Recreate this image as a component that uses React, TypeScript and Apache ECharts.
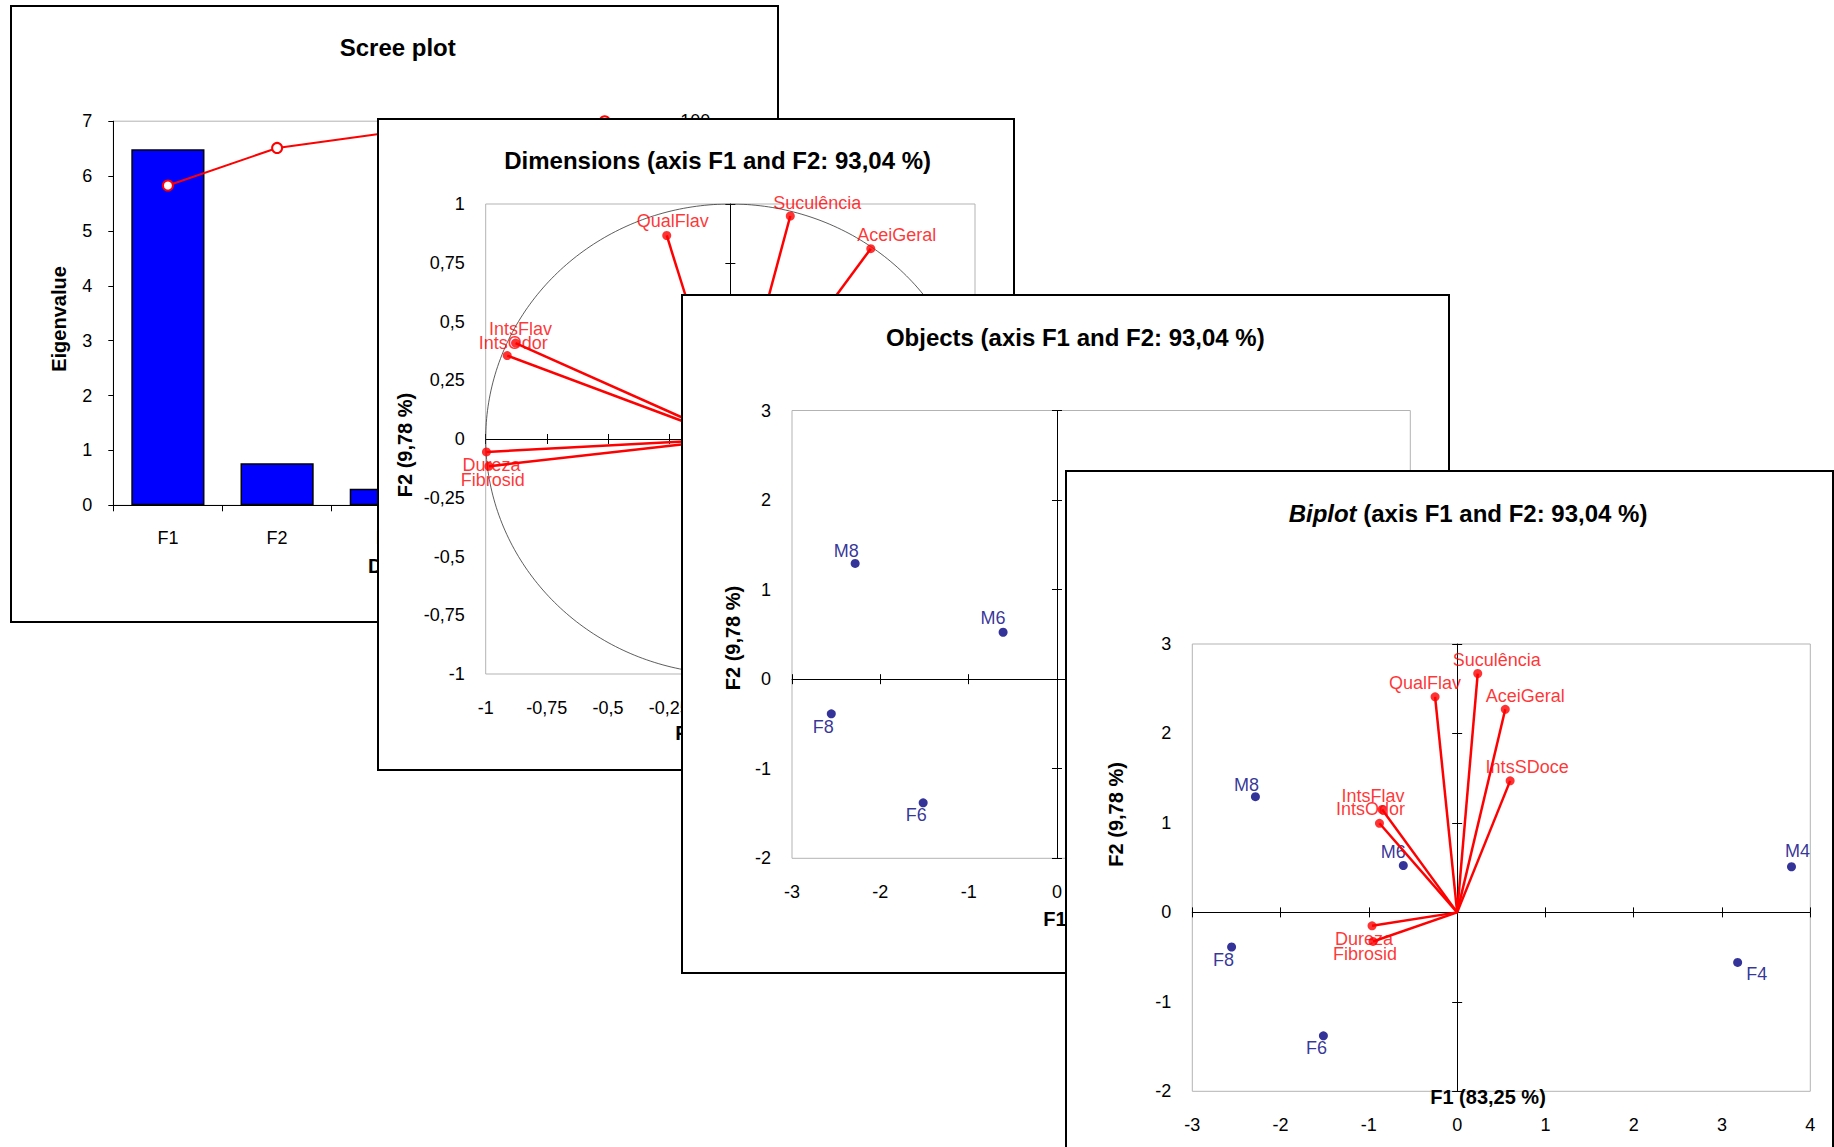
import React, { useEffect, useRef } from "react";
import * as echarts from "echarts";

const FONT = '"Liberation Sans", Arial, Helvetica, sans-serif';
const RED = "#FF0000";
const NAVY = "#000080";
const GRID_BORDER = "#b3b3b3";

// ---------- data ----------
const screeCategories = ["F1", "F2", "F3", "F4", "F5"];
const eigenvalues = [6.49, 0.765, 0.3, 0.18, 0.065];
const cumulativeVariability = [83.25, 93.04, 96.9, 99.2, 100];

const variableNames = ["QualFlav", "Suculência", "AceiGeral", "IntsSDoce", "IntsFlav", "IntsOdor", "Dureza", "Fibrosid"];
const variableCorrF1 = [-0.26, 0.245, 0.574, 0.63, -0.878, -0.912, -0.997, -0.987];
const variableCorrF2 = [0.866, 0.949, 0.81, 0.525, 0.408, 0.355, -0.055, -0.116];
const variableBiplotF1 = [-0.25, 0.233, 0.545, 0.6, -0.85, -0.88, -0.964, -0.953];
const variableBiplotF2 = [2.41, 2.67, 2.27, 1.47, 1.15, 0.996, -0.15, -0.325];

const objectNames = ["M4", "M6", "M8", "F4", "F6", "F8"];
const objectF1 = [3.787, -0.61, -2.285, 3.177, -1.515, -2.555];
const objectF2 = [0.51, 0.524, 1.293, -0.56, -1.38, -0.387];

const corrAxisRange = { min: -1, max: 1, interval: 0.25 };
const objAxisX = { min: -3, max: 4, interval: 1 };
const objAxisY = { min: -2, max: 3, interval: 1 };

const screeTitle = "Scree plot";
const dimsTitle = "Dimensions (axis F1 and F2: 93,04 %)";
const objectsTitle = "Objects (axis F1 and F2: 93,04 %)";
const biplotTitle = "{i|Biplot} (axis F1 and F2: 93,04 %)";
const f1Name = "F1 (83,25 %)";
const f2Name = "F2 (9,78 %)";

// ---------- layout (label offsets in px) ----------
const dimLabelOffset: Record<string, number[]> = {
  QualFlav: [6, -14], "Suculência": [27, -13], AceiGeral: [26, -14], IntsSDoce: [17, -14],
  IntsFlav: [5, -14], IntsOdor: [6, -13], Dureza: [5, 13], Fibrosid: [4, 14],
};
const biplotVarLabelOffset: Record<string, number[]> = {
  QualFlav: [-10, -14], "Suculência": [19, -14], AceiGeral: [20, -13], IntsSDoce: [17, -14],
  IntsFlav: [-9, -14], IntsOdor: [-9, -14], Dureza: [-8, 13], Fibrosid: [-8, 13],
};
const objLabelOffset: Record<string, number[]> = {
  M4: [6, -16], M6: [-10, -14], M8: [-9, -12], F4: [19, 12], F6: [-7, 12], F8: [-8, 13],
};

const panels = {
  scree: { left: 10, top: 5, width: 769, height: 618 },
  dims: { left: 377, top: 118, width: 638, height: 653 },
  objects: { left: 681, top: 294, width: 769, height: 680 },
  biplot: { left: 1065, top: 470, width: 769, height: 680 },
};

const commaFmt = (v: number) => String(v).replace(".", ",");

function titleOpt(text: string, x: number, y: number, rich?: any) {
  return {
    text,
    left: x,
    top: y,
    padding: 0,
    textAlign: "center",
    textVerticalAlign: "middle",
    textStyle: { fontFamily: FONT, fontSize: 24, fontWeight: "bold", color: "#000", rich },
  };
}

function axisText(text: string, x: number, y: number, rotate: boolean, align = "center") {
  return {
    type: "text",
    x,
    y,
    rotation: rotate ? Math.PI / 2 : 0,
    z: 10,
    style: {
      text,
      fontFamily: FONT,
      fontSize: 20,
      fontWeight: "bold",
      fill: "#000",
      align,
      textAlign: align,
      verticalAlign: "middle",
      textVerticalAlign: "middle",
    },
  };
}

function crossAxes(dim: "x" | "y", range: { min: number; max: number; interval: number }, fmt?: (v: number) => string) {
  const base: any = { type: "value", min: range.min, max: range.max, interval: range.interval, splitLine: { show: false } };
  const labelAxis = {
    ...base,
    position: dim === "x" ? "bottom" : "left",
    axisLine: { show: false, onZero: false },
    axisTick: { show: false },
    axisLabel: { show: true, fontSize: 18, fontFamily: FONT, color: "#000", margin: dim === "x" ? 25 : 21, formatter: fmt },
  };
  const zeroA = {
    ...base,
    position: dim === "x" ? "bottom" : "left",
    axisLine: { show: true, onZero: true, onZeroAxisIndex: 0, lineStyle: { color: "#000", width: 1 } },
    axisTick: { show: true, length: 5, lineStyle: { color: "#000", width: 1 } },
    axisLabel: { show: false },
  };
  const zeroB = {
    ...zeroA,
    position: dim === "x" ? "top" : "right",
    axisLine: { show: false, onZero: true, onZeroAxisIndex: 0 },
  };
  return [labelAxis, zeroA, zeroB];
}

function vectorSeries(xs: number[], ys: number[]) {
  return {
    type: "lines",
    coordinateSystem: "cartesian2d",
    xAxisIndex: 0,
    yAxisIndex: 0,
    silent: true,
    z: 3,
    lineStyle: { color: RED, width: 2.5, opacity: 1, curveness: 0 },
    data: variableNames.map((n, i) => ({ coords: [[0, 0], [xs[i], ys[i]]] })),
  };
}

function pointSeries(names: string[], xs: number[], ys: number[], color: string, offsets: Record<string, number[]>, z: number) {
  return {
    type: "scatter",
    xAxisIndex: 0,
    yAxisIndex: 0,
    symbol: "circle",
    symbolSize: 9,
    z,
    itemStyle: { color },
    label: { show: true, position: "inside", formatter: "{b}", color, fontSize: 18, fontFamily: FONT },
    data: names.map((n, i) => ({ name: n, value: [xs[i], ys[i]], label: { offset: offsets[n] || [0, -14] } })),
  };
}

// ---------- options ----------
function screeOption() {
  return {
    animation: false,
    title: titleOpt(screeTitle, 387.7, 42),
    grid: { left: 103.3, top: 116.2, width: 546, height: 384.1, show: true, borderColor: GRID_BORDER, borderWidth: 1 },
    xAxis: {
      type: "category",
      data: screeCategories,
      axisLine: { lineStyle: { color: "#000", width: 1 } },
      axisTick: { show: true, length: 6, lineStyle: { color: "#000" } },
      axisLabel: { fontSize: 18, fontFamily: FONT, color: "#000", margin: 24 },
    },
    yAxis: [
      {
        type: "value", min: 0, max: 7, interval: 1, position: "left",
        axisLine: { show: true, lineStyle: { color: "#000", width: 1 } },
        axisTick: { show: true, length: 5, lineStyle: { color: "#000" } },
        axisLabel: { fontSize: 18, fontFamily: FONT, color: "#000", margin: 21 },
        splitLine: { show: false },
      },
      {
        type: "value", min: 0, max: 100, interval: 20, position: "right",
        axisLine: { show: true, lineStyle: { color: "#000", width: 1 } },
        axisTick: { show: true, length: 5, lineStyle: { color: "#000" } },
        axisLabel: { fontSize: 18, fontFamily: FONT, color: "#000", margin: 21 },
        splitLine: { show: false },
      },
    ],
    series: [
      {
        type: "bar",
        data: eigenvalues,
        barCategoryGap: "33%",
        itemStyle: { color: "#0000FF", borderColor: "#000", borderWidth: 1.5 },
      },
      {
        type: "line",
        yAxisIndex: 1,
        data: cumulativeVariability,
        symbol: "circle",
        symbolSize: 10,
        z: 5,
        lineStyle: { color: RED, width: 2 },
        itemStyle: { color: "#fff", borderColor: RED, borderWidth: 2 },
      },
    ],
    graphic: [
      axisText("Eigenvalue", 48.7, 314, true),
      axisText("Dimension", 358, 561, false, "left"),
      axisText("Cumulative variability (%)", 705, 308, true),
    ],
  };
}

function dimsOption() {
  const circle: number[][] = [];
  for (let k = 0; k <= 360; k++) {
    const a = (k * Math.PI) / 180;
    circle.push([Math.cos(a), Math.sin(a)]);
  }
  return {
    animation: false,
    title: titleOpt(dimsTitle, 340.6, 42),
    grid: { left: 108.7, top: 86, width: 489.3, height: 470, show: true, borderColor: GRID_BORDER, borderWidth: 1 },
    xAxis: crossAxes("x", corrAxisRange, commaFmt),
    yAxis: crossAxes("y", corrAxisRange, commaFmt),
    series: [
      {
        type: "line",
        xAxisIndex: 0,
        yAxisIndex: 0,
        data: circle,
        showSymbol: false,
        symbol: "none",
        silent: true,
        z: 1,
        lineStyle: { color: "#333", width: 0.8 },
      },
      vectorSeries(variableCorrF1, variableCorrF2),
      pointSeries(variableNames, variableCorrF1, variableCorrF2, RED, dimLabelOffset, 4),
    ],
    graphic: [axisText(f2Name, 27.6, 327, true), axisText(f1Name, 356, 615, false)],
  };
}

function objectsOption() {
  return {
    animation: false,
    title: titleOpt(objectsTitle, 394.3, 43),
    grid: { left: 111, top: 116.5, width: 618.3, height: 447.8, show: true, borderColor: GRID_BORDER, borderWidth: 1 },
    xAxis: crossAxes("x", objAxisX),
    yAxis: crossAxes("y", objAxisY),
    series: [pointSeries(objectNames, objectF1, objectF2, NAVY, objLabelOffset, 4)],
    graphic: [axisText(f2Name, 52, 344, true), axisText(f1Name, 420, 625.4, false)],
  };
}

function biplotOption() {
  return {
    animation: false,
    title: titleOpt(biplotTitle, 403, 43.4, {
      i: { fontFamily: FONT, fontSize: 24, fontWeight: "bold", fontStyle: "italic", color: "#000" },
    }),
    grid: { left: 127.3, top: 174, width: 618, height: 447.3, show: true, borderColor: GRID_BORDER, borderWidth: 1 },
    xAxis: crossAxes("x", objAxisX),
    yAxis: crossAxes("y", objAxisY),
    series: [
      pointSeries(objectNames, objectF1, objectF2, NAVY, objLabelOffset, 2),
      vectorSeries(variableBiplotF1, variableBiplotF2),
      pointSeries(variableNames, variableBiplotF1, variableBiplotF2, RED, biplotVarLabelOffset, 4),
    ],
    graphic: [axisText(f2Name, 50.5, 344.4, true), axisText(f1Name, 423, 626.7, false)],
  };
}

// ---------- components ----------
function Panel({ box, option }: { box: { left: number; top: number; width: number; height: number }; option: any }) {
  const ref = useRef<HTMLDivElement>(null);
  useEffect(() => {
    if (!ref.current) return;
    const chart = echarts.init(ref.current, null, { renderer: "svg" });
    chart.setOption(option);
    return () => chart.dispose();
  }, []);
  return (
    <div style={{ position: "absolute", left: box.left, top: box.top, width: box.width, height: box.height, background: "#fff" }}>
      <div ref={ref} style={{ position: "absolute", left: 0, top: 0, width: box.width, height: box.height }} />
      <div
        style={{
          position: "absolute", left: 0, top: 0, width: box.width, height: box.height,
          border: "2px solid #000", boxSizing: "border-box", pointerEvents: "none",
        }}
      />
    </div>
  );
}

export default function App() {
  return (
    <div style={{ position: "absolute", left: 0, top: 0, width: 1834, height: 1147, overflow: "hidden", background: "#fff" }}>
      <Panel box={panels.scree} option={screeOption()} />
      <Panel box={panels.dims} option={dimsOption()} />
      <Panel box={panels.objects} option={objectsOption()} />
      <Panel box={panels.biplot} option={biplotOption()} />
    </div>
  );
}
